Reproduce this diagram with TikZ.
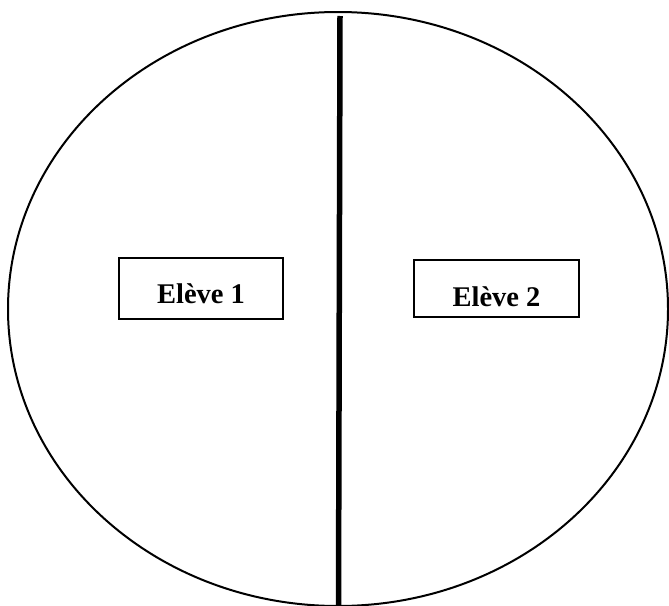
\documentclass[tikz,border=0pt]{standalone}
\usepackage{fontspec}
\setmainfont{Liberation Serif}
\begin{document}
\begin{tikzpicture}[x=1pt,y=-1pt,
  pupilbox/.style={draw=black,line width=2pt,rectangle,inner sep=0pt,font=\fontsize{28.5}{30}\selectfont\bfseries}]
\useasboundingbox (0,0) rectangle (669,605);
\draw[line width=2pt] (338,309) ellipse [x radius=330, y radius=297];
\coordinate (top) at (340,16);
\coordinate (bot) at (338.5,606);
\draw[line width=5.5pt] (top) -- (bot);
\node[pupilbox,minimum width=164pt,minimum height=61pt,text height=29pt,text depth=0pt] (e1) at (201,288.5) {Elève 1};
\node[pupilbox,minimum width=165pt,minimum height=57pt,text height=35pt,text depth=0pt] (e2) at (496.5,288.5) {Elève 2};
\end{tikzpicture}
\end{document}
